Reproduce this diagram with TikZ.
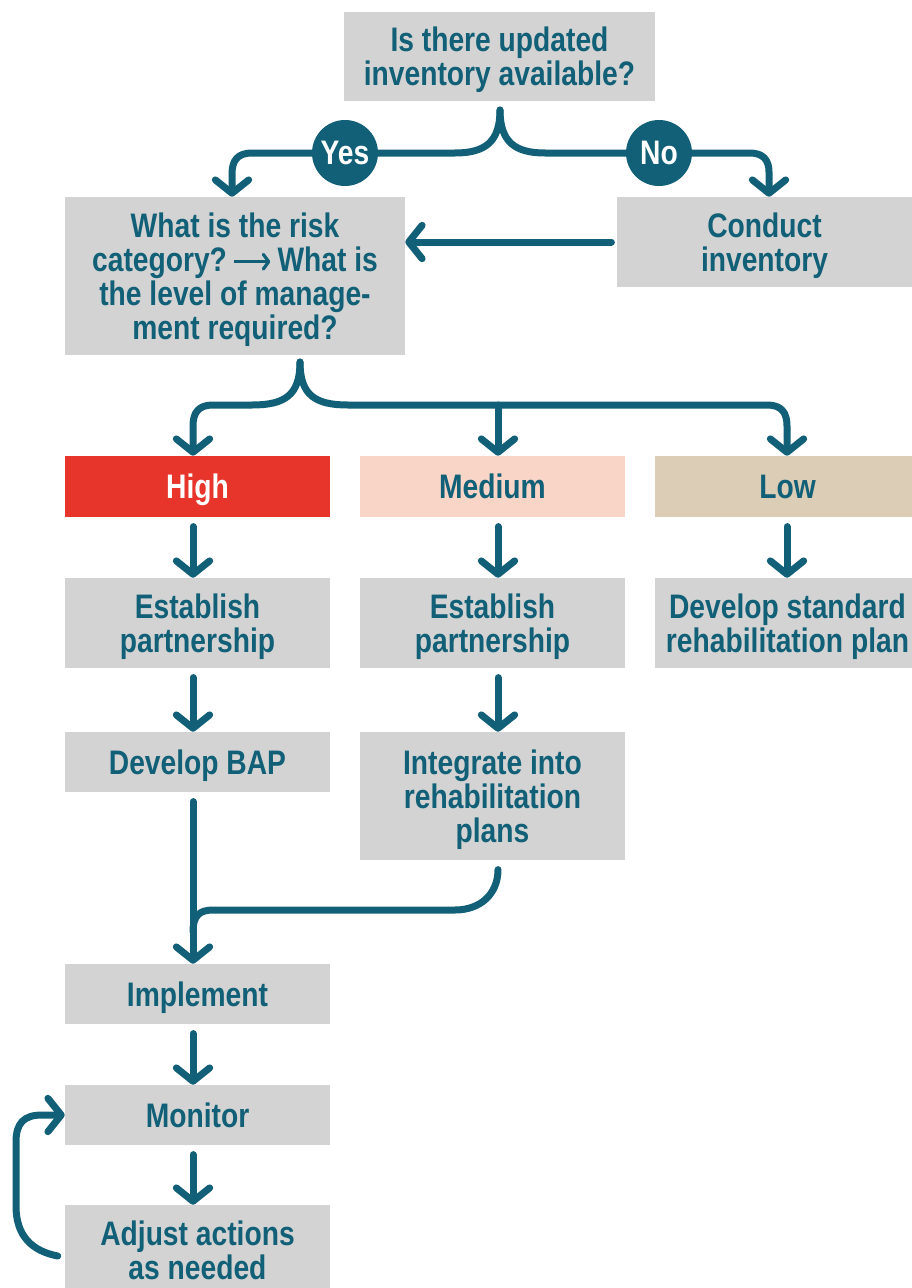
\documentclass[tikz,border=0pt]{standalone}
\usepackage{fontspec}
\setmainfont{Liberation Sans}[FakeStretch=0.83]
\usetikzlibrary{arrows.meta,calc}
\pgfdeclarelayer{bg}
\pgfsetlayers{bg,main}
\definecolor{flowteal}{HTML}{116077}
\definecolor{boxgray}{HTML}{D3D3D3}
\definecolor{highred}{HTML}{E7352B}
\definecolor{medpink}{HTML}{F9D5C8}
\definecolor{lowtan}{HTML}{DBCDB6}
% long inline arrow used inside the box text
\newcommand{\flowarrow}{\tikz[baseline=0pt]\draw[flowteal, line width=2.4pt,
  -{Straight Barb[length=4pt,width=11pt,round]}] (0pt,7.2pt) -- (27pt,7.2pt);}
\begin{document}
\begin{tikzpicture}[x=0.75pt,y=-0.75pt,
  box/.style={fill=boxgray, text=flowteal, inner sep=0pt, align=center,
    minimum width=198.75pt, text depth=0pt,
    font=\bfseries\fontsize{25.5pt}{25.5pt}\selectfont},
  link/.style={draw=flowteal, line width=5.25pt, line cap=round, line join=round},
  arr/.style={link, -{Straight Barb[length=10pt,width=25pt,round]}},
  badge/.style={circle, fill=flowteal, minimum size=49.5pt, inner sep=0pt,
    text=white, font=\bfseries\fontsize{25.5pt}{25.5pt}\selectfont}]
\useasboundingbox (0,0) rectangle (912,1288);
\clip (0,0) rectangle (912,1288);

% column positions of the vertical connectors
\coordinate (c1) at (193,0);
\coordinate (c2) at (498,0);
\coordinate (c3) at (787,0);
\coordinate (cyes) at (232,0);
\coordinate (cno) at (769,0);

% boxes
\node[box, minimum width=233.25pt, minimum height=66.75pt] (q1) at (499.5,56.5)
  {Is there updated\\inventory available?};
\node[box, minimum width=255pt, minimum height=118.5pt] (risk) at (235,276)
  {What is the risk\\category?\,\flowarrow\,What is\\the level of manage-\\ment required?};
\node[box, minimum width=221.25pt, minimum height=67.5pt] (cond) at (764.5,242)
  {Conduct\\inventory};

\node[box, fill=highred, text=white, minimum height=45.75pt] (high) at (197.5,486.5) {High};
\node[box, fill=medpink, minimum height=45.75pt] (med) at (492.5,486.5) {Medium};
\node[box, fill=lowtan, minimum height=45.75pt] (low) at (787.5,486.5) {Low};

\node[box, minimum height=67.5pt] (est1) at (197.5,623) {Establish\\partnership};
\node[box, minimum height=67.5pt] (est2) at (492.5,623) {Establish\\partnership};
\node[box, minimum height=67.5pt] (std) at (787.5,623) {Develop standard\\rehabilitation plan};

\node[box, minimum height=45pt] (bap) at (197.5,762) {Develop BAP};
\node[box, minimum height=96pt] (integ) at (492.5,796) {Integrate into\\rehabilitation\\plans};

\node[box, minimum height=45pt] (impl) at (197.5,994) {Implement};
\node[box, minimum height=45pt] (mon) at (197.5,1115) {Monitor};
\node[box, minimum height=67.5pt] (adj) at (197.5,1250) {Adjust actions\\as needed};

\node[badge] (yes) at (345,153) {Yes};
\node[badge] (no) at (659,153) {No};

\coordinate (cusp1) at (500,110);
\coordinate (cusp2) at (300,362);
\coordinate (mjoin) at (498,405);

\begin{pgfonlayer}{bg}
\fill[white] (0,0) rectangle (912,1288);
% first question: yes / no branches, running behind the badges
\draw[link] (cusp1) .. controls (500,142) and (485,153) .. (455,153) -- (yes.center);
\draw[arr] (yes.center) -- (252,153) .. controls (238,153) and (232,160) .. (232,174)
  -- (risk.north -| cyes);
\draw[link] (cusp1) .. controls (500,142) and (515,153) .. (545,153) -- (no.center);
\draw[arr] (no.center) -- (750,153) .. controls (763,153) and (769,160) .. (769,172)
  -- (cond.north -| cno);
\end{pgfonlayer}

\draw[arr, shorten <=4pt] (cond.west) -- (cond.west -| risk.east);

% risk levels
\draw[arr] (cusp2) .. controls (300,395) and (285,405) .. (252,405) -- (213,405)
  .. controls (199,405) and (193,412) .. (193,426) -- (high.north -| c1);
\draw[arr] (cusp2) .. controls (300,395) and (315,405) .. (348,405) -- (767,405)
  .. controls (781,405) and (787,412) .. (787,426) -- (low.north -| c3);
\draw[arr] (mjoin) -- (med.north -| c2);

% columns
\draw[arr, shorten <=7pt] (high.south -| c1) -- (est1.north -| c1);
\draw[arr, shorten <=7pt] (med.south -| c2) -- (est2.north -| c2);
\draw[arr, shorten <=7pt] (low.south -| c3) -- (std.north -| c3);
\draw[arr, shorten <=7pt] (est1.south -| c1) -- (bap.north -| c1);
\draw[arr, shorten <=7pt] (est2.south -| c2) -- (integ.north -| c2);
\draw[arr, shorten <=7pt] (bap.south -| c1) -- (impl.north -| c1);
\draw[link, shorten <=7pt] (integ.south -| c2) .. controls +(0,34) and (480,910) .. (455,910)
  -- (213,910) .. controls (199,910) and (193,916) .. (193,932);
\draw[arr, shorten <=7pt] (impl.south -| c1) -- (mon.north -| c1);
\draw[arr, shorten <=7pt] (mon.south -| c1) -- (adj.north -| c1);

% feedback loop
\draw[arr] ($(adj.west)+(-7,6)$) .. controls (32,1251) and (16,1236) .. (16,1206)
  -- (16,1142) .. controls (16,1123) and (24,1115) .. (42,1115) -- (mon.west);
\end{tikzpicture}
\end{document}
